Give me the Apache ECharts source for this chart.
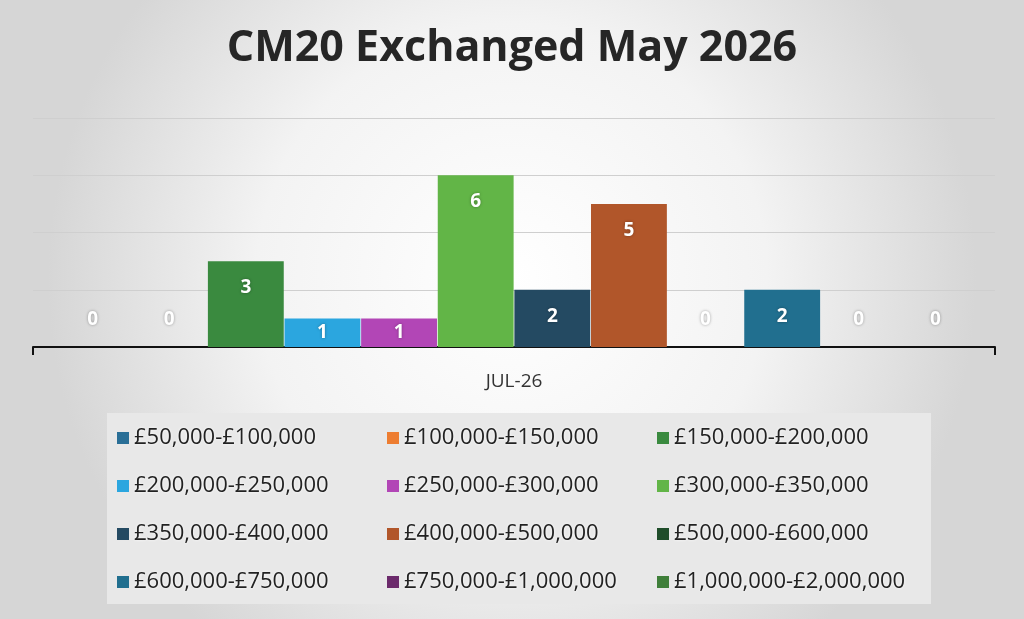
<!DOCTYPE html>
<html>
<head>
<meta charset="utf-8">
<script src="https://cdn.jsdelivr.net/npm/echarts@6/dist/echarts.min.js"></script>
<style>html,body{margin:0;padding:0}#main{width:1024px;height:619px}</style>
</head>
<body>
<div id="main"></div>
<script>
var categories = ['JUL-26'];
var bands = ['£50,000-£100,000', '£100,000-£150,000', '£150,000-£200,000',
    '£200,000-£250,000', '£250,000-£300,000', '£300,000-£350,000',
    '£350,000-£400,000', '£400,000-£500,000', '£500,000-£600,000',
    '£600,000-£750,000', '£750,000-£1,000,000', '£1,000,000-£2,000,000'];
var counts = [0, 0, 3, 1, 1, 6, 2, 5, 0, 2, 0, 0];
var colors = ['#2a6f97', '#ed7d31', '#3a8a3f', '#2ba6df', '#b246b6', '#62b547',
    '#244a62', '#b1562a', '#1f4d2a', '#216f8f', '#6b2a6b', '#3f7f3a'];

function main() {
    var myChart = echarts.init(document.getElementById('main'));

    var series = bands.map(function (name, i) {
        var v = counts[i];
        var label = {
            show: true,
            color: '#fff',
            fontSize: 19,
            fontWeight: 'bold',
            fontFamily: 'Open Sans',
            textShadowColor: 'rgba(0,0,0,0.35)',
            textShadowBlur: 3
        };
        if (v >= 2) {
            label.position = 'insideTop';
            label.distance = 17;
        } else {
            label.position = 'inside';
            label.offset = [0, v === 0 ? -27 : 0];
        }
        return {
            name: name,
            type: 'bar',
            data: [v],
            barGap: '1%',
            barCategoryGap: '4.5%',
            itemStyle: {color: colors[i]},
            label: label
        };
    });

    var option = {
        backgroundColor: {
            type: 'radial', x: 0.5, y: 0.45, r: 0.75,
            colorStops: [{offset: 0, color: '#ffffff'}, {offset: 0.55, color: '#f3f3f3'}, {offset: 1, color: '#d6d6d6'}]
        },
        title: {
            text: 'CM20 Exchanged May 2026',
            left: 'center',
            top: 22,
            textStyle: {fontSize: 43, fontWeight: 'bold', color: '#262626', fontFamily: 'Open Sans'}
        },
        grid: {left: 33, right: 29, top: 118, bottom: 272},
        legend: {
            data: bands,
            left: 107,
            top: 413,
            width: 830,
            padding: [3, 8, 0, 10],
            backgroundColor: '#e8e8e8',
            itemWidth: 12,
            itemHeight: 12,
            itemGap: 4,
            icon: 'rect',
            textStyle: {
                fontSize: 22, color: '#222', fontFamily: 'Open Sans',
                width: 249, height: 44, lineHeight: 44,
                textShadowColor: '#ffffff', textShadowBlur: 3
            }
        },
        xAxis: {
            type: 'category',
            data: categories,
            axisLine: {lineStyle: {color: '#111', width: 2}},
            axisTick: {show: true, length: 8, lineStyle: {color: '#111', width: 2}},
            axisLabel: {fontSize: 19, color: '#333', margin: 25, fontFamily: 'Open Sans'}
        },
        yAxis: {
            type: 'value',
            min: 0,
            max: 8,
            interval: 2,
            axisLabel: {show: false},
            axisLine: {show: false},
            splitLine: {lineStyle: {color: '#cfcfcf', width: 1}}
        },
        series: series
    };

    myChart.setOption(option);
}

main();
</script>
</body>
</html>
